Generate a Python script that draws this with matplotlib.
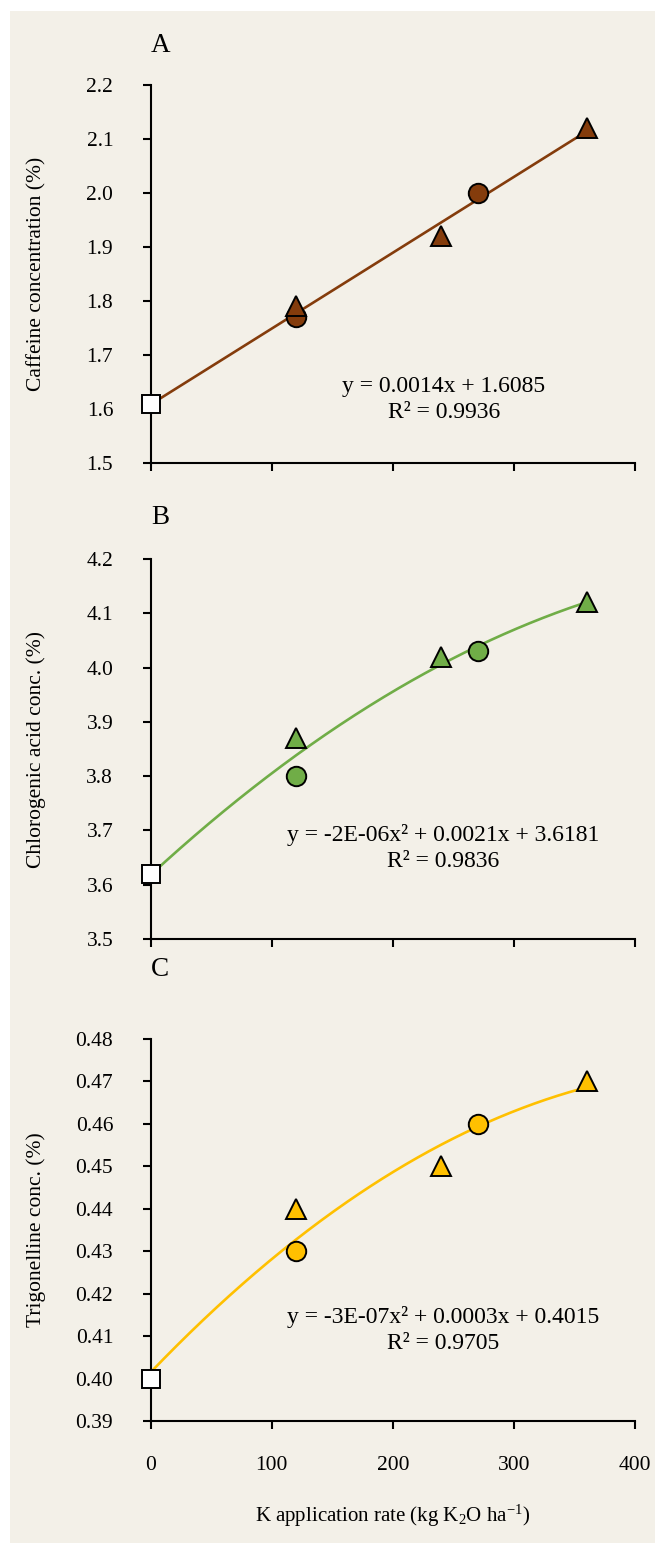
import numpy as np
import matplotlib
matplotlib.use("Agg")
import matplotlib.pyplot as plt
from matplotlib.patches import Rectangle

plt.rcParams['font.family'] = ['Liberation Serif', 'DejaVu Serif']
plt.rcParams['mathtext.fontset'] = 'custom'
plt.rcParams['mathtext.rm'] = 'Liberation Serif'
plt.rcParams['mathtext.it'] = 'Liberation Serif:italic'

# ---- data ----
control_x = [0]
tri_x = [120, 240, 360]
circ_x = [120, 270]

caffeine_ctrl = [1.61]
caffeine_tri = [1.79, 1.92, 2.12]
caffeine_circ = [1.77, 2.00]

chlorogenic_ctrl = [3.62]
chlorogenic_tri = [3.87, 4.02, 4.12]
chlorogenic_circ = [3.80, 4.03]

trigonelline_ctrl = [0.40]
trigonelline_tri = [0.44, 0.45, 0.47]
trigonelline_circ = [0.43, 0.46]

panel_letters = ["A", "B", "C"]
ylabels = ["Caffeine concentration (%)", "Chlorogenic acid conc. (%)", "Trigonelline conc. (%)"]
equations = ["y = 0.0014x + 1.6085\nR² = 0.9936",
             "y = -2E-06x² + 0.0021x + 3.6181\nR² = 0.9836",
             "y = -3E-07x² + 0.0003x + 0.4015\nR² = 0.9705"]
fit_degree = [1, 2, 2]
colors = ["#843C0C", "#70AD47", "#FFC000"]
ylims = [(1.5, 2.2), (3.5, 4.2), (0.39, 0.48)]
ystep = [0.1, 0.1, 0.01]
yfmt = ["{:.1f}", "{:.1f}", "{:.2f}"]
eq_pos = [(242, 1.618), (241.5, 3.668), (241.5, 0.4114)]
xticks = [0, 100, 200, 300, 400]

ctrl = [caffeine_ctrl, chlorogenic_ctrl, trigonelline_ctrl]
tri = [caffeine_tri, chlorogenic_tri, trigonelline_tri]
circ = [caffeine_circ, chlorogenic_circ, trigonelline_circ]

W, H = 655, 1543
fig = plt.figure(figsize=(W / 100, H / 100), dpi=100)
fig.patch.set_facecolor("white")
fig.add_artist(Rectangle((10 / W, 0), 1 - 10 / W, 1 - 11 / H, transform=fig.transFigure,
                         facecolor="#F3F0E8", edgecolor="none", zorder=-10))

left = 150.7 / W
width = (635 - 150.7) / W
tops = [85, 559, 1039]
bottoms = [463, 939, 1421]
letter_y = [46, 518, 970]

for i in range(3):
    ax = fig.add_axes([left, 1 - bottoms[i] / H, width, (bottoms[i] - tops[i]) / H])
    ax.set_facecolor("none")
    c = colors[i]
    allx = np.array(control_x + tri_x + circ_x, dtype=float)
    ally = np.array(ctrl[i] + tri[i] + circ[i], dtype=float)
    coef = np.polyfit(allx, ally, fit_degree[i])
    xs = np.linspace(0, max(allx), 300)
    ax.plot(xs, np.polyval(coef, xs), color=c, lw=1.9, zorder=2, solid_capstyle='butt')
    ax.plot(circ_x, circ[i], 'o', ms=14, mfc=c, mec='black', mew=1.4, zorder=3, clip_on=False)
    ax.plot(tri_x, tri[i], '^', ms=14, mfc=c, mec='black', mew=1.4, zorder=4, clip_on=False)
    ax.plot(control_x, ctrl[i], 's', ms=13.5, mfc='white', mec='black', mew=1.4, zorder=5, clip_on=False)

    ax.set_xlim(0, 400)
    ax.set_ylim(*ylims[i])
    ax.set_xticks(xticks)
    yt = np.round(np.arange(ylims[i][0], ylims[i][1] + ystep[i] / 2, ystep[i]), 4)
    ax.set_yticks(yt)
    ax.set_yticklabels([yfmt[i].format(v) for v in yt])
    if i < 2:
        ax.set_xticklabels([])
    for s in ["top", "right"]:
        ax.spines[s].set_visible(False)
    for s in ["left", "bottom"]:
        ax.spines[s].set_linewidth(1.5)
        ax.spines[s].set_color("black")
    ax.tick_params(axis='both', direction='out', length=6, width=1.5, labelsize=15.5, colors='black')
    ax.tick_params(axis='y', pad=21)
    ax.tick_params(axis='x', pad=19)
    ax.set_ylabel(ylabels[i], fontsize=15.5)
    ax.yaxis.set_label_coords((46 - 150.7) / (635 - 150.7), 0.5)
    ax.text(eq_pos[i][0], eq_pos[i][1], equations[i], fontsize=17, ha='center', va='center',
            linespacing=1.3)
    fig.text(151 / W, 1 - letter_y[i] / H, panel_letters[i], fontsize=19.5, ha='left', va='center')

fig.text(393 / W, 1 - 1516 / H, "K application rate (kg K$_2$O ha$^{\\mathregular{-1}}$)",
         fontsize=15, ha='center', va='center')

fig.savefig("out.png", dpi=100, facecolor=fig.get_facecolor())
